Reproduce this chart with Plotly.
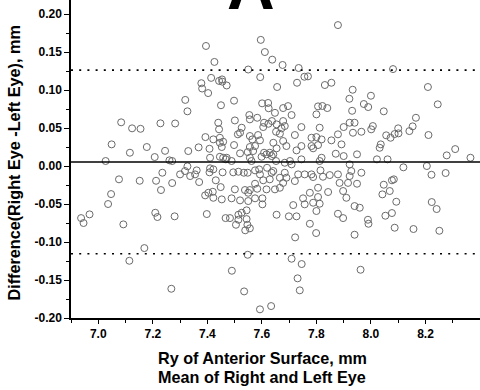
import plotly.graph_objects as go

# Bland-Altman data: mean of right/left eye (x) and difference right-left (y)
mean_ry = [
    7.395, 7.596, 7.611, 7.638, 7.426, 7.550, 7.594, 7.414, 7.443, 7.454, 7.455, 7.471, 7.378, 7.381, 7.403,
    7.319, 7.498, 7.450, 7.601, 7.623, 7.625, 7.327, 7.879, 7.676, 7.735, 7.756, 7.769, 7.729, 7.656, 7.831,
    7.855, 7.933, 7.921, 8.000, 7.974, 7.990, 7.806, 7.822, 7.840, 7.678, 7.696, 7.931, 8.081, 8.209, 8.245,
    8.047, 7.084, 7.124, 7.155, 7.228, 7.282, 7.049, 7.116, 7.178, 7.245, 7.207, 7.027, 7.261, 7.271, 7.235,
    7.076, 7.152, 7.212, 7.271, 7.230, 7.047, 7.036, 6.968, 7.209, 6.937, 6.946, 7.092, 7.169, 7.114, 7.217,
    7.280, 7.268, 7.398, 7.467, 7.483, 7.514, 7.514, 7.544, 7.505, 7.547, 7.556, 7.539, 7.548, 7.490, 7.535,
    7.593, 7.634, 7.654, 7.699, 7.727, 7.776, 7.879, 7.898, 7.989, 7.991, 7.799, 7.722, 7.940, 7.709, 7.746,
    7.962, 7.731, 7.739, 8.053, 8.077, 8.087, 8.156, 8.251, 8.165, 8.007, 8.001, 8.100, 8.101, 8.087, 8.072,
    8.056, 8.153, 8.141, 8.211, 8.036, 8.032, 8.278, 8.309, 8.365, 8.022, 8.061, 8.119, 8.205, 8.222, 8.274,
    8.047, 8.077, 8.084, 8.042, 8.069, 8.093, 8.223, 8.241,
    7.440, 7.443, 7.501, 7.554, 7.556, 7.583, 7.608, 7.605, 7.624, 7.637, 7.526, 7.520, 7.512, 7.393, 7.422,
    7.446, 7.446, 7.458, 7.556, 7.565, 7.586, 7.593, 7.498, 7.330, 7.368, 7.408, 7.453, 7.520, 7.548, 7.556,
    7.575, 7.568, 7.608, 7.629, 7.410, 7.446, 7.458, 7.471, 7.489, 7.468, 7.556, 7.562, 7.599, 7.617, 7.636,
    7.327, 7.318, 7.300, 7.337, 7.361, 7.355, 7.370, 7.410, 7.422, 7.408, 7.456, 7.495, 7.514, 7.534, 7.548,
    7.575, 7.590, 7.593, 7.619, 7.636, 7.605, 7.629, 7.431, 7.449, 7.575, 7.583, 7.617, 7.501, 7.538, 7.556,
    7.550, 7.392, 7.404, 7.420, 7.422, 7.453, 7.489, 7.520, 7.550, 7.575, 7.602, 7.602, 7.526, 7.544,
    7.648, 7.709, 7.800, 7.654, 7.678, 7.684, 7.672, 7.652, 7.666, 7.745, 7.812, 7.721, 7.782, 7.800, 7.819,
    7.855, 7.892, 7.879, 7.900, 7.922, 7.940, 7.934, 7.965, 7.642, 7.678, 7.690, 7.654, 7.745, 7.727, 7.782,
    7.788, 7.806, 7.871, 7.900, 7.949, 7.642, 7.652, 7.684, 7.709, 7.703, 7.745, 7.819, 7.812, 7.815, 7.922,
    7.928, 7.922, 7.965, 7.642, 7.684, 7.690, 7.666, 7.721, 7.733, 7.757, 7.782, 7.788, 7.824, 7.849, 7.879,
    7.885, 7.898, 7.916, 7.949, 7.678, 7.666, 7.648, 7.806, 7.776, 7.751, 7.757, 7.788, 7.812, 7.806, 7.843,
    7.715, 7.910, 7.940, 7.959, 7.800,
]
diff_ry = [
    0.158, 0.166, 0.150, 0.140, 0.137, 0.127, 0.117, 0.116, 0.112, 0.114, 0.111, 0.106, 0.109, 0.102, 0.096,
    0.087, 0.086, 0.080, 0.0825, 0.083, 0.076, 0.072, 0.1855, 0.133, 0.129, 0.1175, 0.118, 0.1096, 0.104, 0.1066,
    0.1096, 0.1004, 0.0885, 0.0925, 0.0816, 0.0776, 0.0785, 0.079, 0.0763, 0.0763, 0.0789, 0.0727, 0.1276, 0.104, 0.0812,
    0.072, 0.0575, 0.0496, 0.049, 0.0562, 0.056, 0.0285, 0.0175, 0.025, 0.020, 0.0118, 0.0066, 0.0075, 0.0066, -0.0088,
    -0.0175, -0.0194, -0.0194, -0.0224, -0.0316, -0.0369, -0.050, -0.0636, -0.0615, -0.0685, -0.075, -0.0768, -0.108, -0.1247, -0.0671,
    -0.0662, -0.1615, -0.0632, -0.0685, -0.0685, -0.0641, -0.0707, -0.0698, -0.0773, -0.0773, -0.082, -0.0846, -0.1168, -0.1378, -0.165,
    -0.1886, -0.1843, -0.0641, -0.0662, -0.0662, -0.076, -0.0628, -0.0685, -0.0707, -0.076, -0.0882, -0.0939, -0.0904, -0.122, -0.129,
    -0.1365, -0.1478, -0.1636, -0.0654, -0.0619, -0.0812, -0.0829, -0.0852, 0.0635, 0.0526, 0.0483, 0.0496, 0.043, 0.0421, 0.0372,
    0.0404, 0.0522, 0.046, 0.0408, 0.0285, 0.024, 0.014, 0.0223, 0.0109, 0.0088, 0.0088, -0.0017, 0.0, -0.0115, -0.0092,
    -0.0246, -0.0188, -0.0175, -0.0373, -0.0329, -0.047, -0.0474, -0.0566,
    0.057, 0.0483, 0.060, 0.0671, 0.0614, 0.0635, 0.057, 0.0513, 0.0556, 0.0592, 0.0504, 0.0438, 0.0417, 0.0381, 0.0351,
    0.0372, 0.0306, 0.032, 0.0395, 0.035, 0.0408, 0.0338, 0.0276, 0.0197, 0.0246, 0.0227, 0.025, 0.0167, 0.0184, 0.025,
    0.0263, 0.0197, 0.0175, 0.0175, 0.0109, 0.0122, 0.0109, 0.0109, 0.0066, 0.0088, 0.0109, 0.0066, 0.0122, 0.0154, 0.0131,
    -0.0004, -0.0066, -0.011, -0.0132, -0.0057, -0.011, -0.0211, -0.003, -0.0044, -0.0083, -0.0083, -0.0083, -0.0075, -0.0088, -0.0088,
    -0.0057, -0.0044, -0.011, -0.0023, -0.0088, -0.0188, -0.0175, -0.0188, -0.0277, -0.0233, -0.0299, -0.0307, -0.0307, -0.0316, -0.0316,
    -0.0352, -0.0386, -0.0352, -0.0339, -0.0418, -0.0439, -0.0425, -0.0452, -0.0461, -0.0425, -0.0425, -0.0504, -0.0615, -0.0583,
    0.070, 0.0671, 0.068, 0.0548, 0.0592, 0.0526, 0.0496, 0.0451, 0.0425, 0.0513, 0.0504, 0.0408, 0.0372, 0.0381, 0.035,
    0.0338, 0.0285, 0.0417, 0.0513, 0.057, 0.057, 0.0438, 0.0451, 0.0306, 0.0329, 0.0263, 0.0233, 0.0263, 0.0206, 0.0263,
    0.0233, 0.0276, 0.0162, 0.0131, 0.0154, 0.0154, 0.0066, 0.0043, 0.0022, 0.0066, 0.0088, 0.0109, 0.0066, -0.0057, 0.0022,
    -0.0066, -0.0132, -0.0088, -0.0066, -0.0088, -0.0154, -0.0154, -0.0198, -0.011, -0.011, -0.011, -0.0145, -0.0141, -0.0119, -0.011,
    -0.0222, -0.0329, -0.0222, -0.0233, -0.0222, -0.0286, -0.0307, -0.0286, -0.0352, -0.0425, -0.0504, -0.0483, -0.0496, -0.0408, -0.0342,
    -0.0514, -0.0418, -0.0527, -0.0549, -0.0592,
]

MEAN_DIFF = 0.0054
UPPER_LOA = 0.1262
LOWER_LOA = -0.1154

x_tick_vals = [7.0, 7.2, 7.4, 7.6, 7.8, 8.0, 8.2]
x_tick_text = ["7.0", "7.2", "7.4", "7.6", "7.8", "8.0", "8.2"]
y_tick_vals = [0.20, 0.15, 0.10, 0.05, 0.00, -0.05, -0.10, -0.15, -0.20]
y_tick_text = ["0.20", "0.15", "0.10", "0.05", "0.00", "-0.05", "-0.10", "-0.15", "-0.20"]

FONT = "Arial, Liberation Sans, sans-serif"

fig = go.Figure()
fig.add_trace(go.Scatter(
    x=mean_ry, y=diff_ry, mode="markers",
    marker=dict(symbol="circle-open", size=7, color="#6a6a6a", line=dict(width=1, color="#6a6a6a")),
    hoverinfo="skip", showlegend=False,
))

fig.add_shape(type="line", xref="paper", x0=0, x1=1, yref="y", y0=MEAN_DIFF, y1=MEAN_DIFF,
              line=dict(color="black", width=1.6))
for v in (UPPER_LOA, LOWER_LOA):
    fig.add_shape(type="line", xref="paper", x0=0, x1=1, yref="y", y0=v, y1=v,
                  line=dict(color="black", width=1.6, dash="2px,6.2px"))

# panel letter (cut off at the top edge, as in the source figure)
fig.add_annotation(text="<b>A</b>", xref="paper", yref="paper", x=0.44, y=0.921,
                   xanchor="center", yanchor="bottom", showarrow=False,
                   font=dict(family=FONT, size=66, color="black"))
# axis titles
fig.add_annotation(text="<b>Ry of Anterior Surface, mm</b>", xref="paper", yref="paper",
                   x=0.468, y=-0.1258, xanchor="center", yanchor="middle", showarrow=False,
                   font=dict(family=FONT, size=16.2, color="black"))
fig.add_annotation(text="<b>Mean of Right and Left Eye</b>", xref="paper", yref="paper",
                   x=0.468, y=-0.1855, xanchor="center", yanchor="middle", showarrow=False,
                   font=dict(family=FONT, size=16.2, color="black"))
fig.add_annotation(text="<b>Difference(Right Eye -Left Eye), mm</b>", xref="paper", yref="paper",
                   x=-0.137, y=0.489, xanchor="center", yanchor="middle", textangle=-90,
                   showarrow=False, font=dict(family=FONT, size=16.2, color="black"))

fig.update_layout(
    width=480, height=390,
    margin=dict(l=71, r=0, t=0, b=72),
    paper_bgcolor="white", plot_bgcolor="white",
    font=dict(family=FONT, color="black"),
    xaxis=dict(
        range=[6.9, 8.4], tickvals=x_tick_vals, ticktext=x_tick_text,
        ticks="outside", ticklen=4, tickwidth=1.3, tickcolor="black",
        minor=dict(dtick=0.1, tick0=7.0, ticks="outside", ticklen=3, tickwidth=1.3, tickcolor="black"),
        showline=True, linecolor="black", linewidth=1.5, showgrid=False, zeroline=False,
        tickfont=dict(family=FONT, size=12, weight="bold"), automargin=False,
    ),
    yaxis=dict(
        range=[-0.2, 0.2185], tickvals=y_tick_vals, ticktext=y_tick_text,
        ticks="outside", ticklen=5, tickwidth=1.3, tickcolor="black",
        minor=dict(dtick=0.025, tick0=0, ticks="outside", ticklen=3, tickwidth=1.3, tickcolor="black"),
        showline=True, linecolor="black", linewidth=1.5, showgrid=False, zeroline=False,
        tickfont=dict(family=FONT, size=12, weight="bold"), automargin=False,
    ),
)

fig.write_html("out.html", config={"displayModeBar": False},
               post_script="document.body.style.margin='0px';")
